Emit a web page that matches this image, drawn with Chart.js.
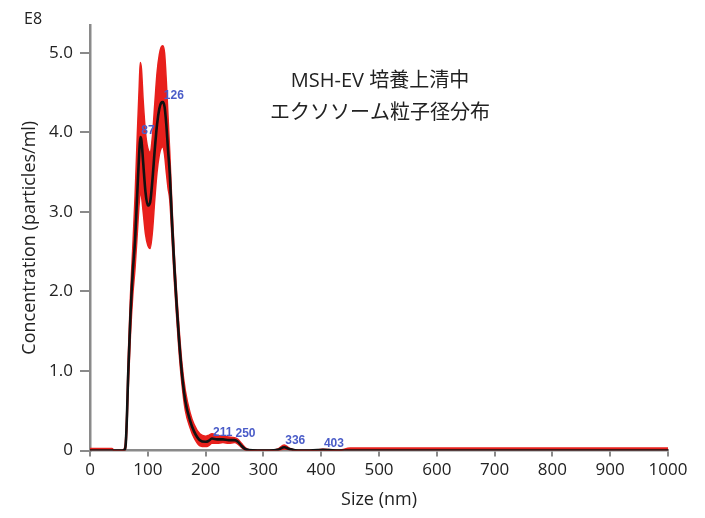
<!DOCTYPE html>
<html>
<head>
<meta charset="utf-8">
<script src="https://cdn.jsdelivr.net/npm/chart.js@4"></script>
<style>
  html, body { margin: 0; padding: 0; background: #fff; }
  #wrap { width: 705px; height: 518px; }
</style>
</head>
<body>
<div id="wrap"><canvas id="ntaChart"></canvas></div>
<script>
// particle size (nm) and concentration (E8 particles/ml)
var sizes = [0, 20, 38, 42, 56, 60, 62, 64, 66, 70, 74, 78, 82, 85, 87, 89, 92, 96, 100, 104, 108, 112, 116, 120, 123, 126, 129, 132, 135, 138, 142, 146, 150, 154, 159, 165, 173, 180, 190, 200, 205, 211, 220, 230, 240, 250, 256, 262, 268, 275, 290, 310, 325, 336, 345, 360, 380, 395, 403, 415, 430, 450, 500, 600, 700, 800, 900, 1000];
var meanConc = [0, 0, 0, 0, 0, 0.01, 0.1, 0.45, 0.95, 1.7, 2.25, 2.65, 3.27, 3.72, 3.94, 3.9, 3.62, 3.25, 3.08, 3.12, 3.4, 3.78, 4.1, 4.3, 4.37, 4.38, 4.32, 4.1, 3.78, 3.48, 2.85, 2.3, 1.82, 1.4, 0.97, 0.62, 0.38, 0.24, 0.13, 0.11, 0.12, 0.15, 0.14, 0.14, 0.13, 0.13, 0.11, 0.06, 0.02, 0.005, 0, 0, 0.01, 0.04, 0.02, 0, 0, 0.005, 0.01, 0.005, 0, 0, 0, 0, 0, 0, 0, 0];
var upperConc = [0.025, 0.025, 0.025, 0, 0, 0.04, 0.2, 0.6, 1.15, 1.95, 2.55, 3.2, 4.0, 4.55, 4.88, 4.8, 4.4, 4.0, 3.8, 3.75, 3.95, 4.35, 4.75, 4.98, 5.07, 5.09, 5.0, 4.65, 4.2, 3.75, 3.05, 2.45, 1.97, 1.55, 1.1, 0.75, 0.48, 0.33, 0.21, 0.18, 0.19, 0.21, 0.19, 0.18, 0.17, 0.16, 0.14, 0.09, 0.04, 0.01, 0, 0, 0.02, 0.07, 0.03, 0, 0, 0.01, 0.015, 0.01, 0, 0.03, 0.03, 0.03, 0.03, 0.03, 0.03, 0.03];
var lowerConc = [-0.025, -0.025, -0.025, 0, 0, 0, 0.04, 0.3, 0.75, 1.45, 1.95, 2.3, 2.75, 3.1, 3.25, 3.2, 3.0, 2.72, 2.58, 2.54, 2.75, 3.15, 3.5, 3.72, 3.8, 3.82, 3.72, 3.5, 3.3, 3.15, 2.65, 2.12, 1.67, 1.25, 0.84, 0.5, 0.29, 0.16, 0.06, 0.05, 0.06, 0.09, 0.09, 0.1, 0.09, 0.1, 0.08, 0.04, 0.005, 0, 0, 0, 0, 0.02, 0.01, 0, 0, 0, 0, 0, 0, -0.03, -0.03, -0.03, -0.03, -0.03, -0.03, -0.03];
var peakSizes = [87, 126, 211, 250, 336, 403];
var titleLines = ['MSH-EV 培養上清中', 'エクソソーム粒子径分布'];

var FONT = '"Open Sans", "Noto Sans CJK JP", sans-serif';

function toPoints(vals) {
    return sizes.map(function (s, i) { return { x: s, y: vals[i] }; });
}

var textPlugin = {
    id: 'ntaText',
    afterDraw: function (chart) {
        var ctx = chart.ctx;
        var xs = chart.scales.x, ys = chart.scales.y;
        ctx.save();
        // in-plot title
        ctx.fillStyle = '#222';
        ctx.font = '20px ' + FONT;
        ctx.textAlign = 'center';
        ctx.textBaseline = 'middle';
        ctx.fillText(titleLines[0], 380, 81);
        ctx.fillText(titleLines[1], 380, 113);
        // exponent label
        ctx.font = '16px ' + FONT;
        ctx.textAlign = 'left';
        ctx.fillText('E8', ys.right - 66, ys.top - 6);
        // peak labels
        ctx.fillStyle = '#4a5cc8';
        ctx.font = 'bold 12px "Liberation Sans", Arial, sans-serif';
        ctx.textBaseline = 'alphabetic';
        peakSizes.forEach(function (s) {
            var v = meanConc[sizes.indexOf(s)];
            ctx.fillText(String(s), xs.getPixelForValue(s) + 1, ys.getPixelForValue(v) - 3);
        });
        ctx.restore();
    }
};

var ctx = document.getElementById('ntaChart').getContext('2d');
var ntaChart = new Chart(ctx, {
    type: 'line',
    data: {
        datasets: [
            {
                label: 'mean',
                data: toPoints(meanConc),
                borderColor: '#111',
                borderWidth: 2.6,
                pointRadius: 0,
                fill: false,
                cubicInterpolationMode: 'monotone',
                order: 0
            },
            {
                label: 'upper',
                data: toPoints(upperConc),
                borderColor: '#e8201c',
                backgroundColor: '#e8201c',
                borderWidth: 1.5,
                pointRadius: 0,
                fill: '+1',
                cubicInterpolationMode: 'monotone',
                order: 1
            },
            {
                label: 'lower',
                data: toPoints(lowerConc),
                borderColor: '#e8201c',
                borderWidth: 1.5,
                pointRadius: 0,
                fill: false,
                cubicInterpolationMode: 'monotone',
                order: 2
            }
        ]
    },
    options: {
        responsive: true,
        maintainAspectRatio: false,
        animation: false,
        layout: {
            padding: { left: 15, right: 37, top: 25, bottom: 3 }
        },
        plugins: {
            legend: { display: false },
            tooltip: { enabled: false }
        },
        scales: {
            x: {
                type: 'linear',
                min: 0,
                max: 1000,
                ticks: {
                    stepSize: 100,
                    color: '#222',
                    padding: 3,
                    maxRotation: 0,
                    font: { family: FONT, size: 17 },
                    callback: function (v) { return String(v); }
                },
                grid: {
                    drawOnChartArea: false,
                    tickLength: 6,
                    color: '#8a8a8a',
                    lineWidth: 2
                },
                border: { color: '#8a8a8a', width: 2.5 },
                title: {
                    display: true,
                    text: 'Size (nm)',
                    color: '#222',
                    font: { family: FONT, size: 18 }
                },
                afterFit: function (scale) { scale.height = 64.5; }
            },
            y: {
                min: 0,
                max: 5.35,
                ticks: {
                    stepSize: 1,
                    includeBounds: false,
                    color: '#222',
                    padding: 7,
                    font: { family: FONT, size: 17 },
                    callback: function (v) { return v === 0 ? '0' : v.toFixed(1); }
                },
                grid: {
                    drawOnChartArea: false,
                    tickLength: 10,
                    color: '#8a8a8a',
                    lineWidth: 2
                },
                border: { color: '#8a8a8a', width: 2.5 },
                title: {
                    display: true,
                    text: 'Concentration (particles/ml)',
                    color: '#222',
                    font: { family: FONT, size: 18 }
                },
                afterFit: function (scale) { scale.width = 75; }
            }
        }
    },
    plugins: [textPlugin]
});
</script>
</body>
</html>
